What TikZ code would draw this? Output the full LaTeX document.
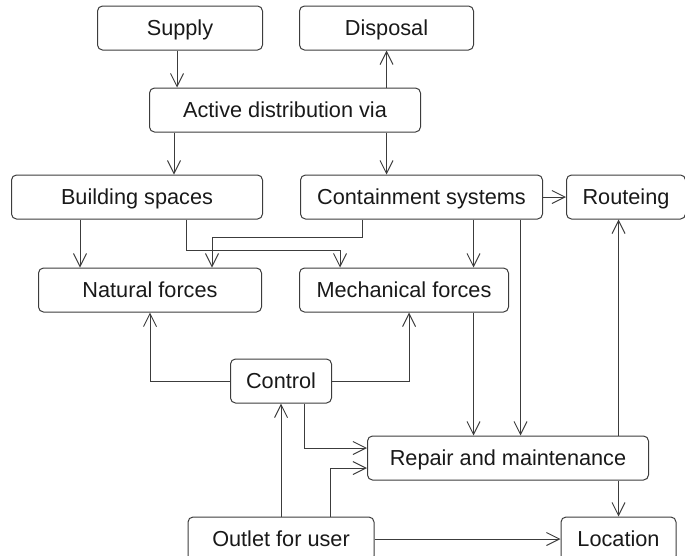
\documentclass[tikz,border=0pt]{standalone}
\usepackage{fontspec}
\setmainfont{Liberation Sans}
\usetikzlibrary{arrows.meta}
\usetikzlibrary{positioning}
\definecolor{linegray}{RGB}{60, 60, 60}
\definecolor{textgray}{RGB}{25, 25, 25}
\newlength{\colgap}
\setlength{\colgap}{37pt}
\newlength{\boxheight}
\setlength{\boxheight}{44pt}
\tikzset{
  box/.style={rectangle, rounded corners=5pt, draw=linegray, line width=1pt,
    minimum height=\boxheight, inner sep=0pt, text=textgray,
    text height=15.5pt, text depth=0pt,
    font=\fontsize{21.7}{26}\selectfont},
  link/.style={draw=linegray, line width=1pt, -{Straight Barb[length=13pt,width=13pt]}}
}

\begin{document}
\begin{tikzpicture}[x=1pt, y=1pt]
\useasboundingbox (0,0) rectangle (685,-555);

\node[box, minimum width=165pt](supply) at (180,-28) {Supply};
\node[box, minimum width=174pt](disposal)[right=36pt of supply]{Disposal};
\node[box, minimum width=271pt](active)[below=37pt of supply, xshift=105pt]{Active distribution via};
\node[box, minimum width=251pt](building)[below=42pt of active, xshift=-148pt]{Building spaces};
\node[box, minimum width=242pt](containment)[right=\colgap of building]{Containment systems};
\node[box, minimum width=119pt](routeing)[right=23pt of containment]{Routeing};
\node[box, minimum width=223pt](natural)[below=48pt of building, xshift=13pt]{Natural forces};
\node[box, minimum width=209pt](mechanical)[right=\colgap of natural]{Mechanical forces};
\node[box, minimum width=101pt](control)[below=46pt of natural, xshift=131pt]{Control};
\node[box, minimum width=281pt](repair)[below=32pt of control, xshift=227pt]{Repair and maintenance};
\node[box, minimum width=186pt](outlet)[below=36pt of repair, xshift=-227pt]{Outlet for user};
\node[box, minimum width=115pt](location)[right=186pt of outlet]{Location};

% top part
\draw[link] ([xshift=-3pt]supply.south) -- ([xshift=-3pt]supply.south |- active.north);
\draw[link] (disposal.south |- active.north) -- (disposal.south);
\draw[link] ([xshift=-111pt]active.south) -- ([xshift=-111pt]active.south |- building.north);
\draw[link] (disposal.south |- active.south) -- (disposal.south |- containment.north);
\draw[link] (containment.east) -- (routeing.west);

% spaces and containment to forces
\draw[link] ([xshift=-57pt]building.south) -- ([xshift=-57pt]building.south |- natural.north);
\draw[link] ([xshift=49pt]building.south) -- ++(0,-31) -| ([xshift=-64pt]mechanical.north);
\draw[link] ([xshift=-59pt]containment.south) -- ++(0,-18) -| ([xshift=62pt]natural.north);
\draw[link] ([xshift=52pt]containment.south) -- ([xshift=52pt]containment.south |- mechanical.north);
\draw[link] ([xshift=99pt]containment.south) -- ([xshift=99pt]containment.south |- repair.north);
\draw[link] ([xshift=52pt]containment.south |- mechanical.south) -- ([xshift=52pt]containment.south |- repair.north);

% control
\draw[link] (control.west) -| (natural.south);
\draw[link] (control.east) -| ([xshift=5pt]mechanical.south);
\draw[link] ([xshift=23pt]control.south) |- ([yshift=10pt]repair.west);

% outlet and repair
\draw[link] (outlet.north) -- (control.south);
\draw[link] ([xshift=49pt]outlet.north) |- ([yshift=-10pt]repair.west);
\draw[link] (outlet.east) -- (location.west);
\draw[link] (location.north |- repair.north) -- (location.north |- routeing.south);
\draw[link] (location.north |- repair.south) -- (location.north);

\end{tikzpicture}
\end{document}
